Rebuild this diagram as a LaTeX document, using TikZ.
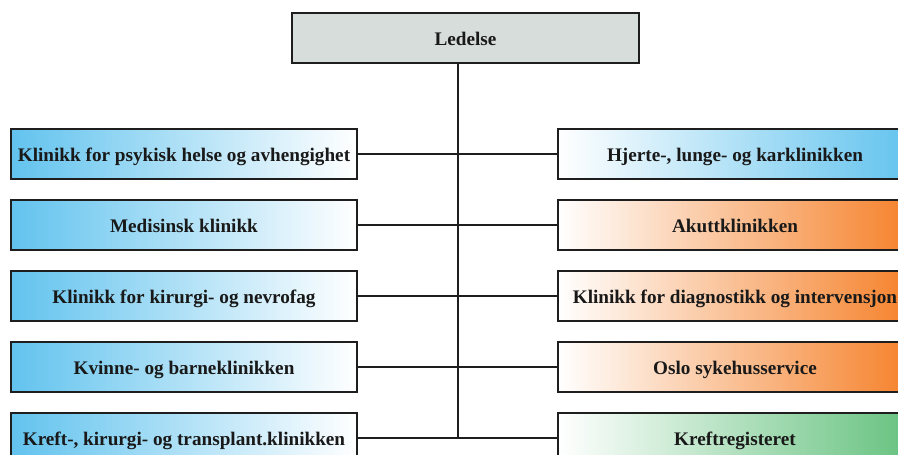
\documentclass[tikz,border=0pt]{standalone}
\usepackage{fontspec}
\setmainfont{Liberation Serif}
\definecolor{cblue}{HTML}{62C3EE}
\definecolor{corange}{HTML}{F5812A}
\definecolor{cgreen}{HTML}{66C27F}
\definecolor{cgray}{HTML}{D6DDDB}
\definecolor{cline}{HTML}{1E1E1E}
\begin{document}
\begin{tikzpicture}[x=1pt,y=-1pt,
  box/.style={draw=cline, line width=1.3pt, minimum height=50pt, inner sep=0pt,
    text height=16pt, text depth=0.6pt,
    font=\fontsize{19.2}{22}\selectfont\bfseries, text=black!90},
  lbox/.style={box, minimum width=346pt, left color=cblue, right color=white},
  rbox/.style={box, minimum width=354pt, left color=white, right color=#1},
  conn/.style={draw=cline, line width=1.3pt}]
\useasboundingbox (0,0) rectangle (898,455);
\clip (0,0) rectangle (898,455);
\node[box, minimum width=347pt, fill=cgray] (led) at (465.5,38) {Ledelse};
\node[lbox] (L1) at (184,154) {Klinikk for psykisk helse og avhengighet};
\node[lbox] (L2) at (184,225) {Medisinsk klinikk};
\node[lbox] (L3) at (184,296) {Klinikk for kirurgi- og nevrofag};
\node[lbox] (L4) at (184,367) {Kvinne- og barneklinikken};
\node[lbox] (L5) at (184,438) {Kreft-, kirurgi- og transplant.klinikken};
\node[rbox=cblue] (R1) at (735,154) {Hjerte-, lunge- og karklinikken};
\node[rbox=corange] (R2) at (735,225) {Akuttklinikken};
\node[rbox=corange] (R3) at (735,296) {Klinikk for diagnostikk og intervensjon};
\node[rbox=corange] (R4) at (735,367) {Oslo sykehusservice};
\node[rbox=cgreen] (R5) at (735,438) {Kreftregisteret};
\coordinate (j5) at (458,438);
\draw[conn] (led.south -| j5) -- (j5);
\foreach \i in {1,...,5}{\draw[conn] (L\i.east) -- (R\i.west);}
\end{tikzpicture}
\end{document}
